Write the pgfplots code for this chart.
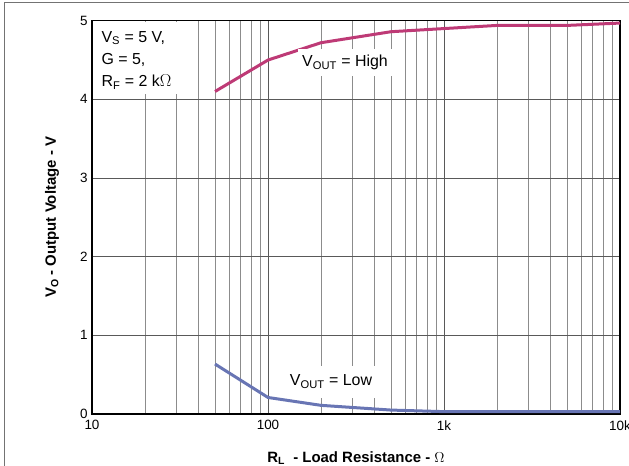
\documentclass[border=0pt]{standalone}
\usepackage{fontspec}
\setmainfont{Liberation Sans}
\usepackage{pgfplots}
\pgfplotsset{compat=1.18}
\definecolor{hicol}{RGB}{190,58,118}
\definecolor{locol}{RGB}{104,117,180}
\begin{document}
\begin{tikzpicture}
\useasboundingbox (-92bp,-52bp) rectangle (537bp,414bp);
\draw[black!55, line width=1bp] (-87.5bp,-120bp) -- (-87.5bp,411.7bp) -- (700bp,411.7bp);
\begin{axis}[
  at={(0,0)}, anchor=south west,
  scale only axis, width=528bp, height=393.3bp,
  xmode=log, xmin=10, xmax=10000, ymin=0, ymax=5,
  xtick={10,100,1000,10000}, xticklabels={10,100,1k,10k},
  ytick={0,1,2,3,4,5},
  major tick length=0pt, minor tick length=0pt,
  grid=both,
  major grid style={black!65, line width=0.8bp},
  minor grid style={black!45, line width=0.8bp},
  axis line style={black, line width=1.5bp},
  /pgf/number format/assume math mode=true,
  tick label style={font=\fontsize{13.5}{15}\selectfont},
  xticklabel style={yshift=-3bp},
  yticklabel style={xshift=-1bp},
  xlabel={\textbf{R\textsubscript{L}\hspace{4bp} - Load Resistance - }$\Omega$},
  ylabel={\textbf{V\textsubscript{O} - Output Voltage - V}},
  label style={font=\fontsize{15}{17}\selectfont},
  xlabel style={yshift=-14bp},
  ylabel style={yshift=14bp},
]
\addplot[hicol, line width=3bp] coordinates {
(50,4.10) (100,4.50) (200,4.72) (500,4.86) (1000,4.90) (2000,4.94) (5000,4.94) (10000,4.97)};
\addplot[locol, line width=3bp] coordinates {
(50,0.635) (100,0.21) (200,0.11) (500,0.05) (1000,0.03) (2000,0.03) (5000,0.03) (10000,0.03)};
\fill[white] (axis cs:10.1,4.07) rectangle (axis cs:36,4.985);
\node[anchor=north west, align=left, font=\fontsize{16}{22.5}\selectfont, inner sep=0pt]
  at (axis cs:11.3,4.87) {V\textsubscript{S} = 5 V,\\G = 5,\\R\textsubscript{F} = 2 k$\Omega$};
\node[fill=white, inner xsep=4bp, inner ysep=6bp, font=\fontsize{16}{18}\selectfont]
  at (axis cs:274,4.47) {V\textsubscript{OUT} = High};
\node[fill=white, inner xsep=4bp, inner ysep=9bp, font=\fontsize{16}{18}\selectfont]
  at (axis cs:228,0.41) {V\textsubscript{OUT} = Low};
\end{axis}
\end{tikzpicture}
\end{document}
